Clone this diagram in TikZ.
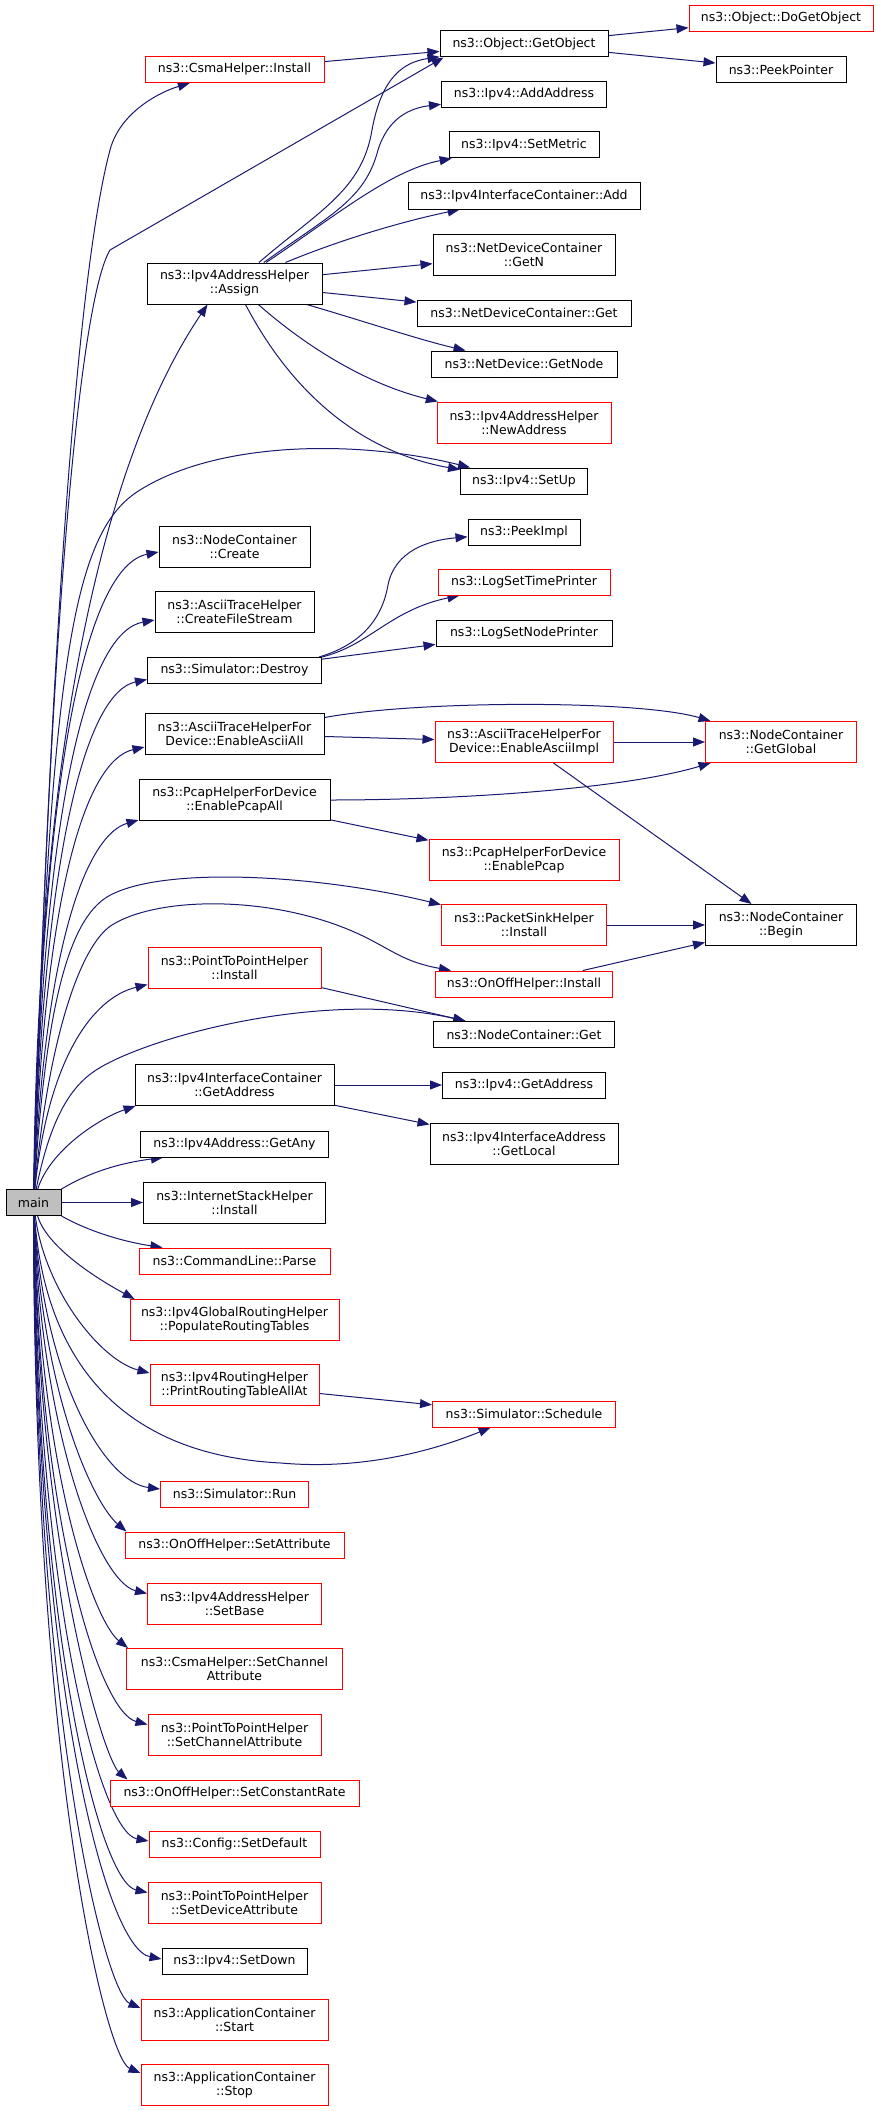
\documentclass[tikz,border=0pt]{standalone}
\usepackage{fontspec}
\setmainfont{DejaVu Sans}
\usetikzlibrary{arrows.meta,calc,backgrounds}
\definecolor{callblue}{RGB}{25,25,112}
\definecolor{maingrey}{RGB}{191,191,191}

\begin{document}
\begin{tikzpicture}[x=1pt,y=-1pt,font=\fontsize{12.5}{14}\selectfont]

\tikzset{fnode/.style={draw=black,fill=white,line width=1pt,inner sep=0pt,minimum height=26pt,align=center},
fnodetwo/.style={fnode,minimum height=41pt},
rednode/.style={fnode,draw=red},
rednodetwo/.style={fnodetwo,draw=red},
mainnode/.style={fnode,fill=maingrey,minimum width=55pt},
callarrow/.style={draw=callblue,line width=1pt,-{Triangle[length=12pt,width=9pt]}}}

\useasboundingbox (0,0) rectangle (875,2111);

% Caller
\node[mainnode] (main) at (33.5,1202.5) {main};

% Left column
\node[rednode,minimum width=179pt] (csmaInst) at (234.5,69.5) {ns3::CsmaHelper::Install};
\node[fnodetwo,minimum width=175pt] (assign) at (234.5,283.5) {ns3::Ipv4AddressHelper\\::Assign};
\node[fnodetwo,minimum width=151pt] (ncCreate) at (234.5,547) {ns3::NodeContainer\\::Create};
\node[fnodetwo,minimum width=159pt] (createStream) at (234.5,612) {ns3::AsciiTraceHelper\\::CreateFileStream};
\node[fnode,minimum width=174pt] (simDestroy) at (234.5,670.5) {ns3::Simulator::Destroy};
\node[fnodetwo,minimum width=179pt] (asciiAll) at (234.5,734) {ns3::AsciiTraceHelperFor\\Device::EnableAsciiAll};
\node[fnodetwo,minimum width=191pt] (pcapAll) at (234.5,800) {ns3::PcapHelperForDevice\\::EnablePcapAll};
\node[rednodetwo,minimum width=173pt] (p2pInst) at (234.5,967.5) {ns3::PointToPointHelper\\::Install};
\node[fnodetwo,minimum width=199pt] (ifcGetAddr) at (234.5,1085) {ns3::Ipv4InterfaceContainer\\::GetAddress};
\node[fnode,minimum width=188pt] (getAny) at (234.5,1144) {ns3::Ipv4Address::GetAny};
\node[fnodetwo,minimum width=182pt] (stackInst) at (234.5,1202.5) {ns3::InternetStackHelper\\::Install};
\node[rednode,minimum width=191pt] (cmdParse) at (234.5,1261) {ns3::CommandLine::Parse};
\node[rednodetwo,minimum width=209pt] (populate) at (234.5,1320) {ns3::Ipv4GlobalRoutingHelper\\::PopulateRoutingTables};
\node[rednodetwo,minimum width=169pt] (printRT) at (234.5,1385) {ns3::Ipv4RoutingHelper\\::PrintRoutingTableAllAt};
\node[rednode,minimum width=148pt] (simRun) at (234.5,1494) {ns3::Simulator::Run};
\node[rednode,minimum width=219pt] (onoffSetAttr) at (234.5,1545) {ns3::OnOffHelper::SetAttribute};
\node[rednodetwo,minimum width=174pt] (setBase) at (234.5,1603.5) {ns3::Ipv4AddressHelper\\::SetBase};
\node[rednodetwo,minimum width=216pt] (csmaSetChan) at (234.5,1669) {ns3::CsmaHelper::SetChannel\\Attribute};
\node[rednodetwo,minimum width=173pt] (p2pSetChan) at (234.5,1734.5) {ns3::PointToPointHelper\\::SetChannelAttribute};
\node[rednode,minimum width=249pt] (setRate) at (234.5,1793) {ns3::OnOffHelper::SetConstantRate};
\node[rednode,minimum width=171pt] (setDefault) at (234.5,1844) {ns3::Config::SetDefault};
\node[rednodetwo,minimum width=173pt] (p2pSetDev) at (234.5,1902.5) {ns3::PointToPointHelper\\::SetDeviceAttribute};
\node[fnode,minimum width=145pt] (setDown) at (234.5,1961) {ns3::Ipv4::SetDown};
\node[rednodetwo,minimum width=187pt] (appStart) at (234.5,2020) {ns3::ApplicationContainer\\::Start};
\node[rednodetwo,minimum width=187pt] (appStop) at (234.5,2085) {ns3::ApplicationContainer\\::Stop};

% Middle column
\node[fnode,minimum width=168pt] (getObject) at (524,44) {ns3::Object::GetObject};
\node[fnode,minimum width=165pt] (addAddr) at (524,94.5) {ns3::Ipv4::AddAddress};
\node[fnode,minimum width=150pt] (setMetric) at (524,145) {ns3::Ipv4::SetMetric};
\node[fnode,minimum width=232pt] (ifcAdd) at (524,196) {ns3::Ipv4InterfaceContainer::Add};
\node[fnodetwo,minimum width=182pt] (ndcGetN) at (524,254.5) {ns3::NetDeviceContainer\\::GetN};
\node[fnode,minimum width=214pt] (ndcGet) at (524,313) {ns3::NetDeviceContainer::Get};
\node[fnode,minimum width=186pt] (getNode) at (524,364) {ns3::NetDevice::GetNode};
\node[rednodetwo,minimum width=174pt] (newAddr) at (524,422.5) {ns3::Ipv4AddressHelper\\::NewAddress};
\node[fnode,minimum width=127pt] (setUp) at (524,481) {ns3::Ipv4::SetUp};
\node[fnode,minimum width=112pt] (peekImpl) at (524,532) {ns3::PeekImpl};
\node[rednode,minimum width=172pt] (logTime) at (524,582) {ns3::LogSetTimePrinter};
\node[fnode,minimum width=176pt] (logNode) at (524,633) {ns3::LogSetNodePrinter};
\node[rednodetwo,minimum width=178pt] (asciiImpl) at (524,742) {ns3::AsciiTraceHelperFor\\Device::EnableAsciiImpl};
\node[rednodetwo,minimum width=190pt] (pcapEn) at (524,860) {ns3::PcapHelperForDevice\\::EnablePcap};
\node[rednodetwo,minimum width=165pt] (sinkInst) at (524,925) {ns3::PacketSinkHelper\\::Install};
\node[rednode,minimum width=177pt] (onoffInst) at (524,984) {ns3::OnOffHelper::Install};
\node[fnode,minimum width=181pt] (ncGet) at (524,1034.5) {ns3::NodeContainer::Get};
\node[fnode,minimum width=163pt] (ipv4GetAddr) at (524,1085) {ns3::Ipv4::GetAddress};
\node[fnodetwo,minimum width=188pt] (getLocal) at (524,1143.5) {ns3::Ipv4InterfaceAddress\\::GetLocal};
\node[rednode,minimum width=183pt] (schedule) at (524,1414) {ns3::Simulator::Schedule};

% Right column
\node[rednode,minimum width=184pt] (doGetObject) at (781,18.5) {ns3::Object::DoGetObject};
\node[fnode,minimum width=130pt] (peekPointer) at (781,69.5) {ns3::PeekPointer};
\node[rednodetwo,minimum width=151pt] (getGlobal) at (781,742) {ns3::NodeContainer\\::GetGlobal};
\node[fnodetwo,minimum width=151pt] (ncBegin) at (781,925) {ns3::NodeContainer\\::Begin};

\begin{scope}[on background layer]
% Calls of main, upwards
\draw[callarrow] (main) .. controls (45,800) and (70,300) .. (110,150) .. controls (120,112) and (160,92) .. (csmaInst);
\draw[callarrow] (main) .. controls (50,620) and (80,300) .. (110,250) -- ($(getObject.south west)+(4,0)$);
\draw[callarrow] (main) .. controls (40,600) and (150,390) .. ($(assign.south)+(-27,0)$);
\draw[callarrow] (main) .. controls (50,650) and (75,530) .. (140,490) .. controls (220,440) and (360,440) .. (setUp);
\draw[callarrow] (main) .. controls (42,760) and (88,566) .. ($(ncCreate.west)+(0,5)$);
\draw[callarrow] (main) .. controls (43,800) and (88,632) .. ($(createStream.west)+(0,8)$);
\draw[callarrow] (main) .. controls (44,840) and (88,692) .. ($(simDestroy.west)+(0,9)$);
\draw[callarrow] (main) .. controls (45,880) and (88,760) .. ($(asciiAll.west)+(0,13)$);
\draw[callarrow] (main) .. controls (46,930) and (90,834) .. ($(pcapAll.south west)+(0,-1)$);
\draw[callarrow] (main) .. controls (46,1000) and (70,920) .. (107,897) .. controls (160,865) and (320,875) .. (sinkInst);
\draw[callarrow] (main) .. controls (48,1040) and (80,945) .. (112,925) .. controls (160,895) and (280,895) .. (365,937) .. controls (395,952) and (405,962) .. (onoffInst);
\draw[callarrow] (main) .. controls (48,1060) and (92,998) .. ($(p2pInst.west)+(0,17)$);
\draw[callarrow] (main) .. controls (52,1110) and (75,1082) .. (101,1067) .. controls (160,1033) and (330,990) .. (ncGet);
\draw[callarrow] (main) .. controls (50,1150) and (100,1118) .. ($(ifcGetAddr.south west)+(1,0)$);
\draw[callarrow] (main.north east) .. controls (90,1172) and (120,1163) .. ($(getAny.south west)+(23,0)$);
\draw[callarrow] (main) -- (stackInst);
% Calls of main, downwards
\draw[callarrow] (main.south east) .. controls (90,1232) and (125,1242) .. ($(cmdParse.north west)+(24,0)$);
\draw[callarrow] (main) .. controls (48,1250) and (105,1283) .. ($(populate.north west)+(5,0)$);
\draw[callarrow] (main) .. controls (45,1290) and (100,1360) .. ($(printRT.west)+(0,-12)$);
\draw[callarrow] (main) .. controls (45,1360) and (120,1455) .. (281,1463) .. controls (360,1470) and (430,1452) .. (schedule);
\draw[callarrow] (main) .. controls (44,1380) and (105,1482) .. ($(simRun.west)+(0,-5)$);
\draw[callarrow] (main) .. controls (43,1400) and (95,1505) .. ($(onoffSetAttr.north west)+(2,0)$);
\draw[callarrow] (main) .. controls (42,1440) and (100,1582) .. ($(setBase.west)+(0,-10)$);
\draw[callarrow] (main) .. controls (41,1480) and (95,1622) .. ($(csmaSetChan.north west)+(2,0)$);
\draw[callarrow] (main) .. controls (40,1530) and (100,1712) .. ($(p2pSetChan.west)+(0,-10)$);
\draw[callarrow] (main) .. controls (39,1560) and (105,1760) .. ($(setRate.north west)+(18,0)$);
\draw[callarrow] (main) .. controls (38,1600) and (100,1832) .. ($(setDefault.west)+(0,-3)$);
\draw[callarrow] (main) .. controls (37,1640) and (100,1882) .. ($(p2pSetDev.west)+(0,-10)$);
\draw[callarrow] (main) .. controls (36,1680) and (105,1948) .. ($(setDown.west)+(0,-2)$);
\draw[callarrow] (main) .. controls (35,1720) and (105,1993) .. ($(appStart.west)+(0,-12)$);
\draw[callarrow] (main) .. controls (34,1760) and (105,2058) .. ($(appStop.west)+(0,-12)$);

% Calls of Assign
\draw[callarrow] (assign) .. controls (320,210) and (362,190) .. (372,130) .. controls (382,75) and (405,62) .. (getObject);
\draw[callarrow] (assign) .. controls (330,215) and (365,200) .. (378,150) .. controls (388,118) and (410,108) .. (addAddr);
\draw[callarrow] (assign) .. controls (330,220) and (390,170) .. (setMetric);
\draw[callarrow] (assign) .. controls (340,240) and (400,222) .. (ifcAdd);
\draw[callarrow] (assign) .. controls (360,320) and (420,340) .. (getNode);
\draw[callarrow] (assign) .. controls (310,350) and (370,385) .. (newAddr);
\draw[callarrow] (assign) .. controls (285,380) and (350,450) .. (setUp);

% Calls of Destroy
\draw[callarrow] ($(simDestroy.north east)+(-3,0)$) .. controls (360,645) and (382,620) .. (388,585) .. controls (395,550) and (430,540) .. (peekImpl);
\draw[callarrow] (simDestroy.north east) .. controls (370,645) and (390,610) .. (logTime);

% Curved calls to GetGlobal
\draw[callarrow] (asciiAll) .. controls (420,700) and (640,700) .. (getGlobal);
\draw[callarrow] (pcapAll) .. controls (450,800) and (620,790) .. (getGlobal);

% Straight calls
\foreach \a/\b in {assign/ndcGetN, assign/ndcGet, csmaInst/getObject, getObject/doGetObject,
  getObject/peekPointer, simDestroy/logNode, asciiAll/asciiImpl, asciiImpl/getGlobal,
  asciiImpl/ncBegin, pcapAll/pcapEn, sinkInst/ncBegin, onoffInst/ncBegin, p2pInst/ncGet,
  ifcGetAddr/ipv4GetAddr, ifcGetAddr/getLocal, printRT/schedule}
  \draw[callarrow] (\a) -- (\b);
\end{scope}

\end{tikzpicture}
\end{document}
